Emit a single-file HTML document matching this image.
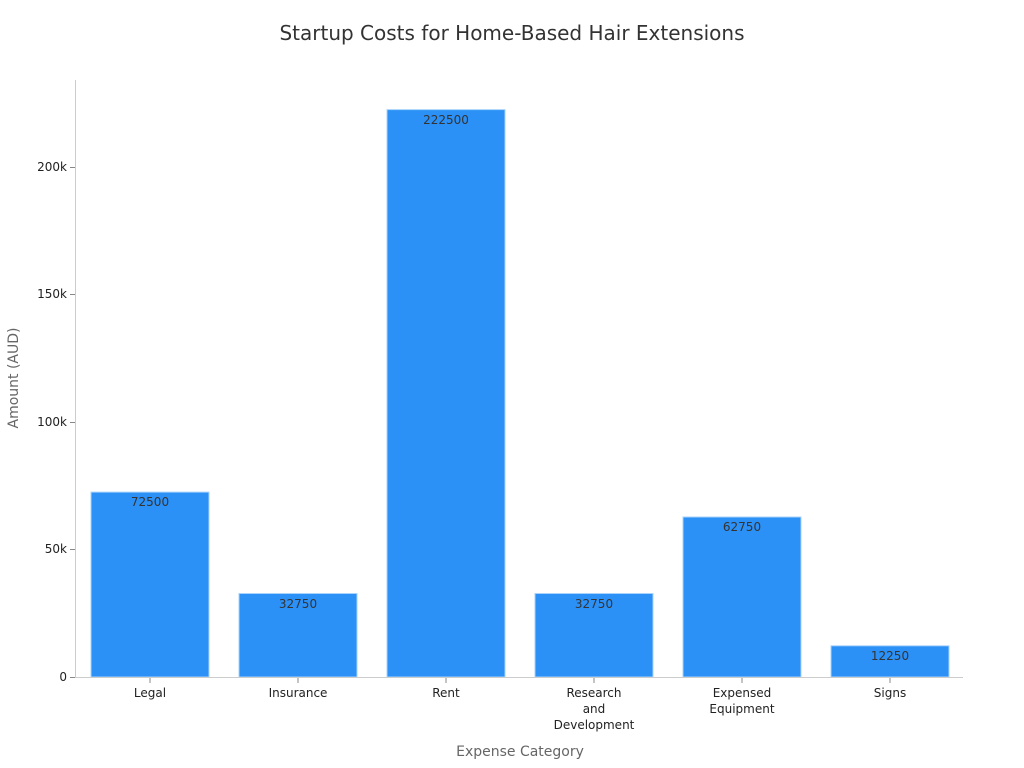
<!DOCTYPE html>
<html><head><meta charset="utf-8"><style>body{margin:0;background:#fff}svg{display:block}text{font-family:"DejaVu Sans","Liberation Sans",sans-serif}</style></head>
<body>
<svg width="1024" height="768" viewBox="0 0 1024 768" xmlns="http://www.w3.org/2000/svg">
<rect width="1024" height="768" fill="#fff"/>
<text x="512" y="40" text-anchor="middle" font-size="20" fill="#333">Startup Costs for Home-Based Hair Extensions</text>
<g fill="#2c91f6" stroke="#a9d3fa" stroke-width="1">
<rect x="91" y="492.1" width="118" height="184.9"/>
<rect x="239" y="593.5" width="118" height="83.5"/>
<rect x="387" y="109.6" width="118" height="567.4"/>
<rect x="535" y="593.5" width="118" height="83.5"/>
<rect x="683" y="517" width="118" height="160"/>
<rect x="831" y="645.8" width="118" height="31.2"/>
</g>
<g font-size="12" fill="#333" text-anchor="middle">
<text x="150" y="506">72500</text>
<text x="298" y="608">32750</text>
<text x="446" y="124">222500</text>
<text x="594" y="608">32750</text>
<text x="742" y="531">62750</text>
<text x="890" y="660">12250</text>
</g>
<g stroke="#ccc" stroke-width="1">
<line x1="75.5" y1="80" x2="75.5" y2="677"/>
<line x1="75" y1="677.5" x2="963" y2="677.5"/>
</g>
<g stroke="#888" stroke-width="1">
<line x1="70" y1="677.5" x2="75" y2="677.5"/>
<line x1="70" y1="549.5" x2="75" y2="549.5"/>
<line x1="70" y1="422.5" x2="75" y2="422.5"/>
<line x1="70" y1="294.5" x2="75" y2="294.5"/>
<line x1="70" y1="167.5" x2="75" y2="167.5"/>
<line x1="150" y1="678" x2="150" y2="683"/>
<line x1="298" y1="678" x2="298" y2="683"/>
<line x1="446" y1="678" x2="446" y2="683"/>
<line x1="594" y1="678" x2="594" y2="683"/>
<line x1="742" y1="678" x2="742" y2="683"/>
<line x1="890" y1="678" x2="890" y2="683"/>
</g>
<g font-size="12" fill="#222" text-anchor="end">
<text x="67" y="681">0</text>
<text x="67" y="553">50k</text>
<text x="67" y="426">100k</text>
<text x="67" y="298">150k</text>
<text x="67" y="171">200k</text>
</g>
<g font-size="12" fill="#222" text-anchor="middle">
<text x="150" y="697">Legal</text>
<text x="298" y="697">Insurance</text>
<text x="446" y="697">Rent</text>
<text x="594" y="697">Research</text>
<text x="594" y="713">and</text>
<text x="594" y="729">Development</text>
<text x="742" y="697">Expensed</text>
<text x="742" y="713">Equipment</text>
<text x="890" y="697">Signs</text>
</g>
<text x="520" y="756" text-anchor="middle" font-size="14" fill="#666">Expense Category</text>
<text transform="translate(18,378) rotate(-90)" text-anchor="middle" font-size="14" fill="#666">Amount (AUD)</text>
</svg>
</body></html>
